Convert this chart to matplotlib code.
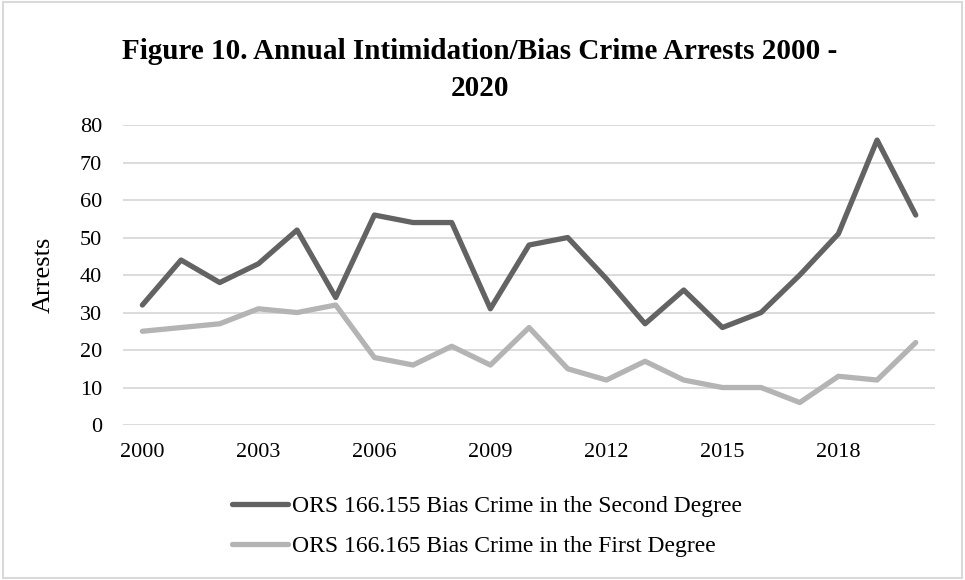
import matplotlib.pyplot as plt
from matplotlib.patches import Rectangle

# annual arrests by statute
years = list(range(2000, 2021))
second_degree = [32, 44, 38, 43, 52, 34, 56, 54, 54, 31, 48, 50, 39, 27, 36, 26, 30, 40, 51, 76, 56]
first_degree = [25, 26, 27, 31, 30, 32, 18, 16, 21, 16, 26, 15, 12, 17, 12, 10, 10, 6, 13, 12, 22]
tick_years = [2000, 2003, 2006, 2009, 2012, 2015, 2018]

plt.rcParams["font.family"] = ["Liberation Serif", "DejaVu Serif"]

fig = plt.figure(figsize=(9.65, 5.8), dpi=100)
ax = fig.add_axes([0.1275, 0.2672, 0.8415, 0.5172])

x = list(range(len(years)))
ax.plot(x, second_degree, color="#636363", lw=3.8, solid_capstyle="round",
        solid_joinstyle="round", label="ORS 166.155 Bias Crime in the Second Degree")
ax.plot(x, first_degree, color="#b4b4b4", lw=3.8, solid_capstyle="round",
        solid_joinstyle="round", label="ORS 166.165 Bias Crime in the First Degree")

ax.set_xlim(-0.5, len(years) - 0.5)
ax.set_ylim(0, 80)
ax.set_yticks(range(0, 81, 10))
ax.set_xticks([years.index(y) for y in tick_years])
ax.set_xticklabels([str(y) for y in tick_years])
ax.tick_params(labelsize=16, length=0, colors="#000000")
ax.tick_params(axis="y", pad=15)
ax.tick_params(axis="x", pad=13)
ax.grid(axis="y", color="#d9d9d9", lw=1.3)
ax.set_axisbelow(True)
for s in ax.spines.values():
    s.set_visible(False)
ax.set_ylabel("Arrests", fontsize=19)
ax.yaxis.set_label_coords(-0.084, 0.5)

fig.text(0.4975, 0.879, "Figure 10. Annual Intimidation/Bias Crime Arrests 2000 -\n2020",
         ha="center", va="center", fontsize=21, fontweight="bold", linespacing=1.45)

leg = fig.legend(loc="center left", bbox_to_anchor=(0.2404, 0.0922), ncol=1, frameon=False,
                 fontsize=17, handlelength=2.37, handletextpad=0.17, labelspacing=0.8,
                 borderpad=0, borderaxespad=0)

# light frame round the whole chart
fig.patches.append(Rectangle((0.003, 0.003), 0.994, 0.994, transform=fig.transFigure,
                             fill=False, edgecolor="#d9d9d9", lw=1.5))

fig.savefig("out.png", dpi=100)
